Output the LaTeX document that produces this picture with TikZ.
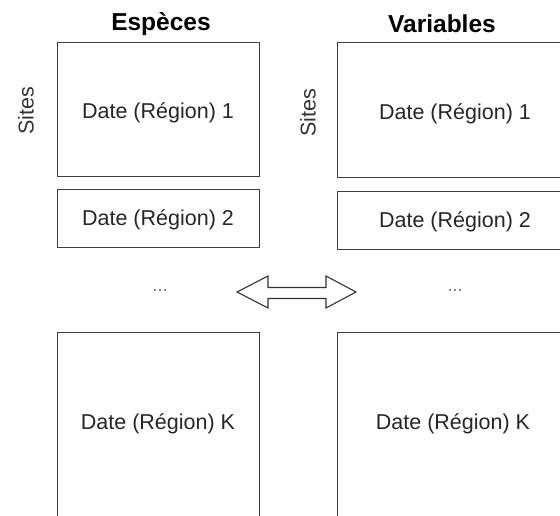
\documentclass[tikz,border=0pt]{standalone}
\usepackage{fontspec}
\setmainfont{Liberation Sans}
\begin{document}
\begin{tikzpicture}[x=1pt,y=-1pt,
  block/.style={draw=black!75, line width=1.3pt, inner sep=0pt, anchor=north west},
  body/.style={font=\fontsize{21.5}{24}\selectfont, text=black!85},
  heading/.style={font=\fontsize{24.5}{28}\selectfont\bfseries},
  axis/.style={font=\fontsize{21.5}{24}\selectfont, text=black!80, rotate=90},
  ellip/.style={font=\fontsize{18}{20}\selectfont, text=black!55},
  bigarrow/.style={draw=black!80, line width=1.1pt, fill=white, line join=miter}]
\useasboundingbox (0,0) rectangle (560,515);
\clip (0,0) rectangle (560,515);

% column headings
\node[heading] (hsp) at (161,24) {Espèces};
\node[heading] (hvar) at (442,24) {Variables};

% row axis labels
\node[axis] (sl) at (26,111) {Sites};
\node[axis] (sr) at (308,113) {Sites};

% left column: species tables
\node[block, minimum width=202, minimum height=134] (l1) at (57,42) {};
\node[body] (l1t) at (158,113) {Date (Région) 1};
\node[block, minimum width=202, minimum height=58] (l2) at (57,189) {};
\node[body] (l2t) at (158,220) {Date (Région) 2};
\node[ellip] (ldots) at (160,291) {...};
\node[block, minimum width=202, minimum height=200] (lk) at (57,332) {};
\node[body] (lkt) at (158,424) {Date (Région) K};

% right column: variable tables
\node[block, minimum width=240, minimum height=135] (r1) at (337,42) {};
\node[body] (r1t) at (455,114) {Date (Région) 1};
\node[block, minimum width=240, minimum height=58] (r2) at (337,191) {};
\node[body] (r2t) at (455,222) {Date (Région) 2};
\node[ellip] (rdots) at (455,291) {...};
\node[block, minimum width=240, minimum height=200] (rk) at (337,332) {};
\node[body] (rkt) at (453,424) {Date (Région) K};

% two-way correspondence arrow
\draw[bigarrow] (237,292) -- (268,276) -- (268,287.5) -- (326,287.5) -- (326,276)
  -- (356,292) -- (326,308) -- (326,298.5) -- (268,298.5) -- (268,308) -- cycle;
\end{tikzpicture}
\end{document}
